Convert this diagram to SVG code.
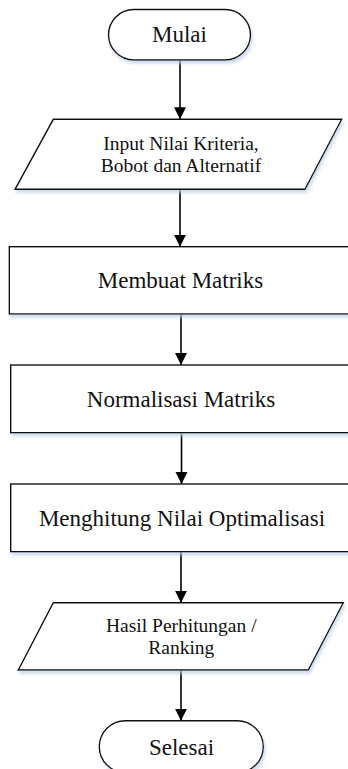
<svg xmlns="http://www.w3.org/2000/svg" width="348" height="769" viewBox="0 0 348 769">
<style>
.shape{fill:#ffffff;stroke:#111111;stroke-width:1.4;filter:url(#sh)}
.lbl{font-family:"Liberation Serif","Times New Roman",serif;fill:#111111;text-anchor:middle}
.big{font-size:23px}
.small{font-size:19.5px}
.conn{stroke:#000000;stroke-width:1.6;fill:none;marker-end:url(#arr)}
</style>
<defs>
<filter id="sh" x="-10%" y="-20%" width="130%" height="150%">
<feDropShadow dx="1.5" dy="3" stdDeviation="1.5" flood-color="#b9cde6" flood-opacity="0.7"/>
</filter>
<marker id="arr" markerUnits="userSpaceOnUse" markerWidth="13" markerHeight="13" refX="12" refY="6" orient="auto">
<path d="M0,0 L12,6 L0,12 z" fill="#000000"/>
</marker>
</defs>
<rect width="348" height="769" fill="#ffffff"/>
<g id="connectors">
<line class="conn" x1="180" y1="60" x2="180" y2="119.3"/>
<line class="conn" x1="180" y1="189.3" x2="180" y2="246.7"/>
<line class="conn" x1="181" y1="314" x2="181" y2="365"/>
<line class="conn" x1="181.5" y1="432.7" x2="181.5" y2="484"/>
<line class="conn" x1="181" y1="551.7" x2="181" y2="602.7"/>
<line class="conn" x1="181" y1="670" x2="181" y2="720.7"/>
</g>
<g id="mulai">
<rect class="shape" x="108.5" y="9.5" width="142" height="50.5" rx="25.25" ry="25.25"/>
<text class="lbl big" x="179.5" y="42">Mulai</text>
</g>
<g id="input">
<polygon class="shape" points="53.3,119.3 341.7,119.3 305,189.3 15,189.3"/>
<text class="lbl small" x="181" y="150">Input Nilai Kriteria,</text>
<text class="lbl small" x="181" y="171.5">Bobot dan Alternatif</text>
</g>
<g id="membuat">
<rect class="shape" x="9.3" y="246.7" width="341.7" height="67.3"/>
<text class="lbl big" x="180.5" y="288.3">Membuat Matriks</text>
</g>
<g id="normalisasi">
<rect class="shape" x="10.7" y="365" width="341" height="67.7"/>
<text class="lbl big" x="181" y="406.5">Normalisasi Matriks</text>
</g>
<g id="menghitung">
<rect class="shape" x="10.7" y="484" width="341" height="67.7"/>
<text class="lbl big" x="182" y="525.8">Menghitung Nilai Optimalisasi</text>
</g>
<g id="hasil">
<polygon class="shape" points="53.3,602.7 343.3,602.7 308.3,670 18.3,670"/>
<text class="lbl small" x="181.3" y="632.3">Hasil Perhitungan /</text>
<text class="lbl small" x="181.3" y="653.5">Ranking</text>
</g>
<g id="selesai">
<rect class="shape" x="99.3" y="720.7" width="164" height="52" rx="26" ry="26"/>
<text class="lbl big" x="181.5" y="755">Selesai</text>
</g>
</svg>
